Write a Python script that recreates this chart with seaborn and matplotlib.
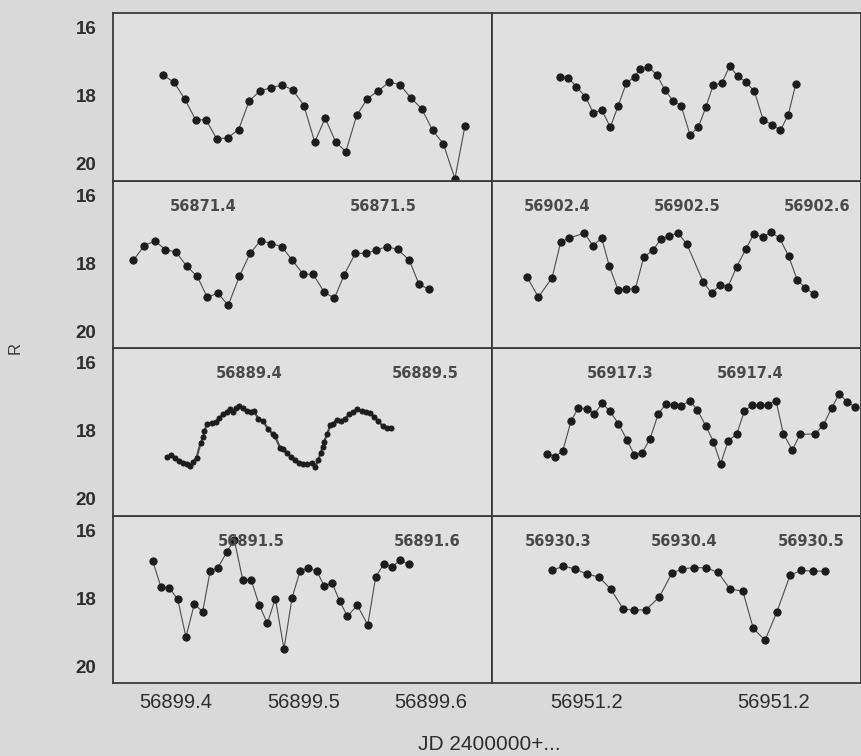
import seaborn as sns
import matplotlib.pyplot as plt

# light curves, JD (2400000+) and R magnitude
jd_56871 = [56871.3779, 56871.3839, 56871.3900, 56871.3959, 56871.4017, 56871.4076, 56871.4137,
            56871.4198, 56871.4257, 56871.4317, 56871.4378, 56871.4439, 56871.4498, 56871.4561,
            56871.4621, 56871.4679, 56871.4737, 56871.4794, 56871.4854, 56871.4913, 56871.4972,
            56871.5035, 56871.5094, 56871.5156, 56871.5215, 56871.5276, 56871.5335, 56871.5400,
            56871.5456]
r_56871 = [17.40, 17.60, 18.11, 18.71, 18.71, 19.27, 19.24, 19.00, 18.15, 17.86, 17.76, 17.69,
           17.82, 18.29, 19.37, 18.66, 19.36, 19.65, 18.58, 18.09, 17.86, 17.60, 17.67, 18.07,
           18.38, 19.02, 19.41, 20.45, 18.88]

jd_56902 = [56902.4023, 56902.4087, 56902.4148, 56902.4218, 56902.4279, 56902.4346, 56902.4410,
            56902.4469, 56902.4533, 56902.4598, 56902.4638, 56902.4702, 56902.4767, 56902.4828,
            56902.4895, 56902.4954, 56902.5023, 56902.5087, 56902.5146, 56902.5202, 56902.5267,
            56902.5328, 56902.5390, 56902.5454, 56902.5518, 56902.5587, 56902.5654, 56902.5718,
            56902.5779, 56902.5836]
r_56902 = [17.44, 17.47, 17.73, 18.03, 18.50, 18.43, 18.93, 18.31, 17.63, 17.44, 17.21, 17.15,
           17.38, 17.82, 18.16, 18.29, 19.15, 18.93, 18.32, 17.68, 17.63, 17.13, 17.42, 17.60,
           17.87, 18.73, 18.85, 19.02, 18.56, 17.66]

jd_56889 = [56889.3343, 56889.3405, 56889.3466, 56889.3524, 56889.3585, 56889.3646, 56889.3706,
            56889.3763, 56889.3822, 56889.3882, 56889.3945, 56889.4006, 56889.4066, 56889.4127,
            56889.4186, 56889.4246, 56889.4307, 56889.4365, 56889.4426, 56889.4485, 56889.4541,
            56889.4604, 56889.4663, 56889.4722, 56889.4782, 56889.4845, 56889.4911, 56889.4966,
            56889.5024]
r_56889 = [17.91, 17.48, 17.34, 17.60, 17.67, 18.09, 18.39, 19.01, 18.88, 19.24, 18.39, 17.71,
           17.33, 17.42, 17.51, 17.91, 18.32, 18.33, 18.84, 19.04, 18.34, 17.71, 17.71, 17.62,
           17.51, 17.59, 17.91, 18.62, 18.77]

jd_56917 = [56917.2287, 56917.2372, 56917.2477, 56917.2544, 56917.2610, 56917.2725, 56917.2792,
            56917.2859, 56917.2918, 56917.2985, 56917.3048, 56917.3118, 56917.3182, 56917.3252,
            56917.3315, 56917.3379, 56917.3444, 56917.3513, 56917.3641, 56917.3705, 56917.3767,
            56917.3831, 56917.3898, 56917.3967, 56917.4031, 56917.4098, 56917.4162, 56917.4228,
            56917.4298, 56917.4362, 56917.4425, 56917.4490]
r_56917 = [18.42, 19.00, 18.43, 17.37, 17.26, 17.11, 17.48, 17.26, 18.09, 18.79, 18.76, 18.76,
           17.82, 17.62, 17.29, 17.21, 17.10, 17.43, 18.56, 18.88, 18.65, 18.69, 18.10, 17.59,
           17.13, 17.24, 17.08, 17.26, 17.80, 18.48, 18.73, 18.90]

jd_56891 = [56891.4521, 56891.4544, 56891.4568, 56891.4593, 56891.4615, 56891.4638, 56891.4653,
            56891.4672, 56891.4691, 56891.4714, 56891.4729, 56891.4735, 56891.4752, 56891.4777,
            56891.4799, 56891.4820, 56891.4843, 56891.4865, 56891.4881, 56891.4896, 56891.4915,
            56891.4934, 56891.4953, 56891.4976, 56891.4998, 56891.5017, 56891.5041, 56891.5070,
            56891.5098, 56891.5123, 56891.5136, 56891.5165, 56891.5184, 56891.5203, 56891.5226,
            56891.5250, 56891.5273, 56891.5297, 56891.5320, 56891.5345, 56891.5364, 56891.5382,
            56891.5396, 56891.5407, 56891.5415, 56891.5434, 56891.5449, 56891.5468, 56891.5487,
            56891.5510, 56891.5534, 56891.5559, 56891.5581, 56891.5604, 56891.5629, 56891.5653,
            56891.5676, 56891.5699, 56891.5723, 56891.5748, 56891.5774, 56891.5794]
r_56891 = [18.76, 18.73, 18.81, 18.89, 18.94, 18.97, 19.04, 18.91, 18.79, 18.35, 18.19, 18.01,
           17.79, 17.77, 17.74, 17.62, 17.52, 17.44, 17.37, 17.44, 17.32, 17.27, 17.34, 17.42,
           17.44, 17.42, 17.64, 17.72, 17.96, 18.09, 18.16, 18.50, 18.55, 18.65, 18.77, 18.87,
           18.94, 18.97, 18.99, 18.94, 19.07, 18.87, 18.65, 18.48, 18.32, 18.09, 17.84, 17.79,
           17.67, 17.72, 17.64, 17.52, 17.44, 17.37, 17.42, 17.44, 17.47, 17.60, 17.72, 17.86,
           17.91, 17.93]

jd_56930 = [56930.2915, 56930.2976, 56930.3037, 56930.3103, 56930.3160, 56930.3227, 56930.3287,
            56930.3350, 56930.3411, 56930.3477, 56930.3543, 56930.3603, 56930.3664, 56930.3727,
            56930.3793, 56930.3854, 56930.3917, 56930.3975, 56930.4043, 56930.4101, 56930.4168,
            56930.4228, 56930.4286, 56930.4346, 56930.4413, 56930.4473, 56930.4536, 56930.4597,
            56930.4662, 56930.4723, 56930.4781, 56930.4852, 56930.4913, 56930.5032, 56930.5097,
            56930.5164, 56930.5224, 56930.5287, 56930.5348]
r_56930 = [18.68, 18.76, 18.60, 17.71, 17.33, 17.35, 17.50, 17.19, 17.43, 17.79, 18.26, 18.71,
           18.66, 18.24, 17.50, 17.21, 17.24, 17.26, 17.12, 17.38, 17.86, 18.32, 18.97, 18.29,
           18.10, 17.42, 17.24, 17.23, 17.23, 17.11, 18.09, 18.57, 18.11, 18.09, 17.84, 17.32,
           16.91, 17.16, 17.29]

jd_56899 = [56899.3817, 56899.3882, 56899.3947, 56899.4013, 56899.4078, 56899.4144, 56899.4209,
            56899.4267, 56899.4329, 56899.4398, 56899.4457, 56899.4523, 56899.4588, 56899.4653,
            56899.4716, 56899.4779, 56899.4847, 56899.4910, 56899.4973, 56899.5035, 56899.5104,
            56899.5161, 56899.5224, 56899.5284, 56899.5344, 56899.5422, 56899.5504, 56899.5566,
            56899.5631, 56899.5694, 56899.5757, 56899.5825]
r_56899 = [16.90, 17.67, 17.69, 18.03, 19.14, 18.17, 18.40, 17.21, 17.10, 16.64, 16.27, 17.45,
           17.45, 18.20, 18.74, 18.01, 19.50, 17.99, 17.20, 17.11, 17.20, 17.63, 17.55, 18.09,
           18.53, 18.21, 18.79, 17.37, 16.98, 17.08, 16.88, 17.00]

jd_56951 = [56951.1311, 56951.1373, 56951.1436, 56951.1498, 56951.1564, 56951.1628, 56951.1694,
            56951.1753, 56951.1816, 56951.1887, 56951.1953, 56951.2010, 56951.2072, 56951.2136,
            56951.2201, 56951.2265, 56951.2333, 56951.2389, 56951.2452, 56951.2514, 56951.2586,
            56951.2646, 56951.2707, 56951.2773]
r_56951 = [17.18, 17.06, 17.13, 17.29, 17.37, 17.74, 18.32, 18.35, 18.34, 17.96, 17.27, 17.13,
           17.10, 17.10, 17.24, 17.73, 17.79, 18.89, 19.24, 18.42, 17.32, 17.18, 17.20, 17.20]

# x ranges and tick labels of each panel
xlim_56871 = (56871.350, 56871.5606)
xlim_56902 = (56902.350, 56902.6338)
xlim_56889 = (56889.3227, 56889.5381)
xlim_56917 = (56917.2015, 56917.4854)
xlim_56891 = (56891.4216, 56891.6369)
xlim_56930 = (56930.2478, 56930.5395)
xlim_56899 = (56899.3506, 56899.6478)
xlim_56951 = (56951.0992, 56951.2965)

ticks_56871 = [56871.4, 56871.5]
ticks_56902 = [56902.4, 56902.5, 56902.6]
ticks_56889 = [56889.4, 56889.5]
ticks_56917 = [56917.3, 56917.4]
ticks_56891 = [56891.5, 56891.6]
ticks_56930 = [56930.3, 56930.4, 56930.5]
ticks_56899 = [56899.4, 56899.5, 56899.6]
ticks_56951 = [56951.15, 56951.25]
labels_56951 = ['56951.2', '56951.2']

panels = [
    # (row, col, jd, r, xlim, ticks, labels)
    (0, 0, jd_56871, r_56871, xlim_56871, ticks_56871, None),
    (1, 0, jd_56889, r_56889, xlim_56889, ticks_56889, None),
    (2, 0, jd_56891, r_56891, xlim_56891, ticks_56891, None),
    (3, 0, jd_56899, r_56899, xlim_56899, ticks_56899, None),
    (0, 1, jd_56902, r_56902, xlim_56902, ticks_56902, None),
    (1, 1, jd_56917, r_56917, xlim_56917, ticks_56917, None),
    (2, 1, jd_56930, r_56930, xlim_56930, ticks_56930, None),
    (3, 1, jd_56951, r_56951, xlim_56951, ticks_56951, labels_56951),
]

sns.set_style('white')
narrow = ['Liberation Sans Narrow', 'Liberation Sans', 'DejaVu Sans']

bg = '#d9d9d9'
fig = plt.figure(figsize=(8.62, 7.56), dpi=100, facecolor=bg)
gs = fig.add_gridspec(4, 2, left=113 / 862, right=861 / 862, top=1 - 13 / 756,
                      bottom=1 - 683 / 756, wspace=0, hspace=0, width_ratios=[379, 369])

for row, col, jd, r, xlim, ticks, labels in panels:
    ax = fig.add_subplot(gs[row, col])
    ax.set_zorder(10 - row)  # tick labels of upper panels sit over the panel below
    ax.set_facecolor('#e0e0e0')

    dense = (jd is jd_56891)
    sns.lineplot(x=jd, y=r, ax=ax, color='#4d4d4d', linewidth=1.6 if dense else 0.8,
                 marker='o', markersize=3.6 if dense else 5.2,
                 markerfacecolor='#1c1c1c', markeredgecolor='#1c1c1c',
                 sort=False, estimator=None)

    ax.set_xlim(*xlim)
    ax.set_ylim(20.5, 15.56)
    ax.set_xticks(ticks)
    if labels is None:
        labels = [f'{t:.1f}' for t in ticks]
    ax.set_xticklabels(labels)
    ax.set_yticks([16, 18, 20])
    ax.tick_params(direction='in', length=3, width=0.8, color='#888888')

    if row < 3:
        ax.tick_params(axis='x', pad=13)
        for t in ax.get_xticklabels():
            t.set_fontfamily('DejaVu Sans')
            t.set_fontweight('bold')
            t.set_fontsize(10.5)
            t.set_color('#4a4a4a')
    else:
        ax.tick_params(axis='x', pad=7)
        for t in ax.get_xticklabels():
            t.set_fontfamily(narrow)
            t.set_fontsize(14.5)
            t.set_color('#2e2e2e')

    if col == 0:
        ax.tick_params(axis='y', pad=12)
        for t in ax.get_yticklabels():
            t.set_fontfamily(narrow)
            t.set_fontweight('bold')
            t.set_fontsize(13.5)
            t.set_color('#2e2e2e')
    else:
        ax.set_yticklabels([])

    ax.set_xlabel('')
    ax.set_ylabel('')
    for s in ax.spines.values():
        s.set_color('#3a3a3a')
        s.set_linewidth(1.3)

fig.text(489 / 862, 1 - 744 / 756, 'JD 2400000+...', ha='center', va='center',
         fontsize=15, family=narrow, color='#2e2e2e')
fig.text(15 / 862, 1 - 348 / 756, 'R', ha='center', va='center', rotation=90,
         fontsize=12, family=narrow, color='#3a3a3a')

fig.savefig('out.png', dpi=100, facecolor=bg)
